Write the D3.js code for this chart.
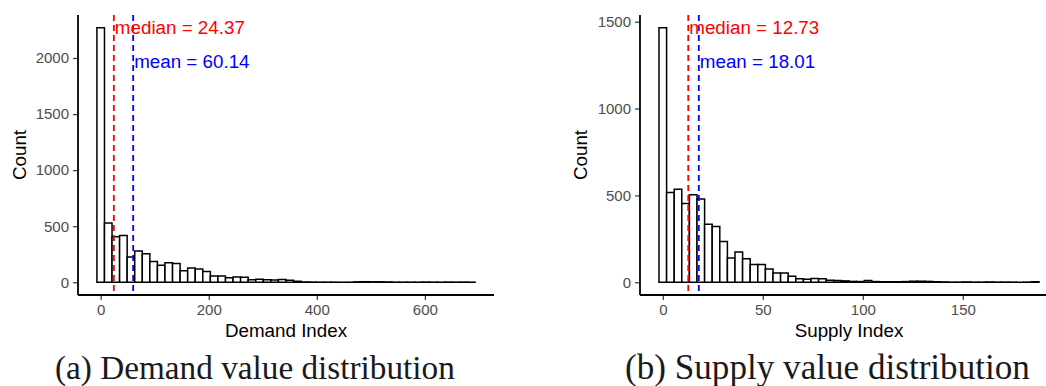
<!DOCTYPE html>
<html>
<head>
<meta charset="utf-8">
<script src="https://cdn.jsdelivr.net/npm/d3@7"></script>
<style>
  html, body { margin: 0; padding: 0; background: #fff; }
  svg { display: block; }
</style>
</head>
<body>
<svg id="chart" width="1046" height="386"></svg>
<script>
// ---------------- data ----------------
const demandBinWidth = 14;
const demandCounts = [2270, 528, 405, 418, 225, 280, 255, 185, 152, 175,
                      168, 103, 128, 118, 95, 55, 55, 40, 47, 44,
                      22, 28, 23, 20, 25, 18, 9, 3, 2, 1,
                      1, 1, 0, 1, 4, 5, 4, 4, 3, 1,
                      1, 1, 1, 2, 1, 1, 2, 1, 2, 1];
const demandMedian = 24.37;
const demandMean = 60.14;
const demandXTicks = [0, 200, 400, 600];
const demandYTicks = [0, 500, 1000, 1500, 2000];

const supplyBinWidth = 3.8;
const supplyCounts = [1465, 517, 536, 454, 504, 479, 334, 321, 235, 139,
                      174, 136, 103, 103, 76, 54, 54, 34, 20, 18,
                      22, 20, 12, 10, 8, 5, 4, 10, 4, 3,
                      3, 3, 4, 6, 6, 5, 3, 2, 1, 1,
                      2, 1, 1, 2, 1, 1, 1, 0, 1, 3];
const supplyMedian = 12.73;
const supplyMean = 18.01;
const supplyXTicks = [0, 50, 100, 150];
const supplyYTicks = [0, 500, 1000, 1500];

const xTitles = ["Demand Index", "Supply Index"];
const captions = ["(a) Demand value distribution", "(b) Supply value distribution"];

// ---------------- drawing ----------------
const svg = d3.select("#chart");
const SANS = "'Liberation Sans', Arial, Helvetica, sans-serif";

function histogram(cfg) {
  const { counts, binWidth, median, mean, xTicks, yTicks, xTitle, caption,
          left, right, top, bottom, yTitleX, captionX, captionW } = cfg;
  const bins = counts.map((c, i) => ({ x0: i * binWidth - binWidth / 2, x1: i * binWidth + binWidth / 2, c }));
  const xmin = bins[0].x0, xmax = bins[bins.length - 1].x1;
  const xpad = (xmax - xmin) * 0.05;
  const ymax = d3.max(counts);
  const ypad = ymax * 0.05;
  const x = d3.scaleLinear().domain([xmin - xpad, xmax + xpad]).range([left, right]);
  const y = d3.scaleLinear().domain([-ypad, ymax + ypad]).range([bottom, top]);

  const g = svg.append("g");

  // bars (paths so that empty bins still draw their outline on the baseline)
  g.selectAll("path.bar").data(bins).join("path")
    .attr("class", "bar")
    .attr("d", d => `M${x(d.x0)},${y(0)}V${y(d.c)}H${x(d.x1)}V${y(0)}Z`)
    .attr("fill", "#fff")
    .attr("stroke", "#000")
    .attr("stroke-width", 1.5)
    .attr("stroke-linejoin", "miter");

  // reference lines
  [[median, "#FF0000"], [mean, "#0000FF"]].forEach(([v, col]) => {
    g.append("line")
      .attr("x1", x(v)).attr("x2", x(v))
      .attr("y1", top).attr("y2", bottom)
      .attr("stroke", col).attr("stroke-width", 1.8)
      .attr("stroke-dasharray", "6,4");
  });

  // labels
  g.append("text")
    .attr("x", x(median) + 1).attr("y", y(ymax))
    .attr("dominant-baseline", "central")
    .attr("font-family", SANS).attr("font-size", 18.8)
    .attr("fill", "#FF0000")
    .text("median = " + median.toFixed(2));
  g.append("text")
    .attr("x", x(mean) + 1).attr("y", y(ymax * 0.866))
    .attr("dominant-baseline", "central")
    .attr("font-family", SANS).attr("font-size", 18.8)
    .attr("fill", "#0000FF")
    .text("mean = " + mean.toFixed(2));

  // axes
  const xAxis = d3.axisBottom(x).tickValues(xTicks).tickSize(5).tickPadding(4).tickFormat(d3.format("d"));
  const yAxis = d3.axisLeft(y).tickValues(yTicks).tickSize(5).tickPadding(4).tickFormat(d3.format("d"));
  const gx = g.append("g").attr("transform", `translate(0,${bottom})`).call(xAxis);
  const gy = g.append("g").attr("transform", `translate(${left},0)`).call(yAxis);
  [gx, gy].forEach(a => {
    a.select(".domain").remove();
    a.selectAll(".tick line").attr("stroke", "#333").attr("stroke-width", 1.2);
    a.selectAll(".tick text").attr("fill", "#4D4D4D").attr("font-size", 15).attr("font-family", SANS);
  });
  g.append("line").attr("x1", left).attr("x2", right).attr("y1", bottom).attr("y2", bottom)
    .attr("stroke", "#000").attr("stroke-width", 1.8);
  g.append("line").attr("x1", left).attr("x2", left).attr("y1", top).attr("y2", bottom)
    .attr("stroke", "#000").attr("stroke-width", 1.8);

  // titles
  g.append("text")
    .attr("x", (left + right) / 2).attr("y", 337)
    .attr("text-anchor", "middle")
    .attr("font-family", SANS).attr("font-size", 18.8).attr("fill", "#000")
    .text(xTitle);
  g.append("text")
    .attr("transform", `translate(${yTitleX},${(top + bottom) / 2}) rotate(-90)`)
    .attr("text-anchor", "middle").attr("dominant-baseline", "central")
    .attr("font-family", SANS).attr("font-size", 18.8).attr("fill", "#000")
    .text("Count");

  // caption
  const cap = svg.append("text")
    .attr("x", captionX).attr("y", 379)
    .attr("font-family", "'Liberation Serif', 'Times New Roman', serif")
    .attr("font-size", 30).attr("fill", "#1a1a1a")
    .text(caption);
  const w = cap.node().getComputedTextLength();
  cap.attr("font-size", 30 * captionW / w);
}

histogram({
  counts: demandCounts, binWidth: demandBinWidth, median: demandMedian, mean: demandMean,
  xTicks: demandXTicks, yTicks: demandYTicks, xTitle: xTitles[0], caption: captions[0],
  left: 78, right: 494, top: 15, bottom: 295, yTitleX: 19, captionX: 55, captionW: 400
});
histogram({
  counts: supplyCounts, binWidth: supplyBinWidth, median: supplyMedian, mean: supplyMean,
  xTicks: supplyXTicks, yTicks: supplyYTicks, xTitle: xTitles[1], caption: captions[1],
  left: 640, right: 1058, top: 15, bottom: 295, yTitleX: 580.5, captionX: 625, captionW: 405
});
</script>
</body>
</html>
